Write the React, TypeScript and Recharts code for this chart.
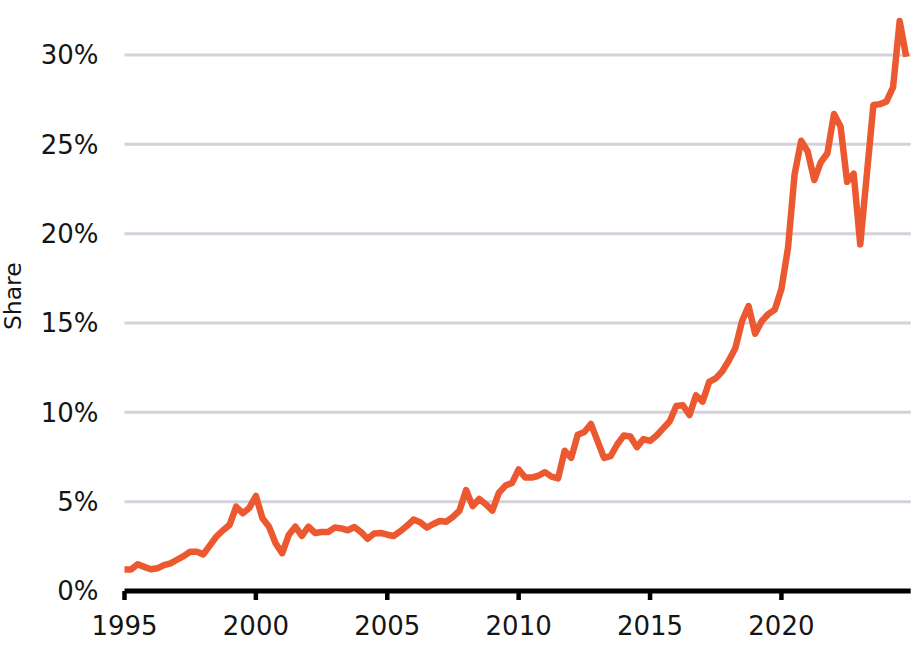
import React from "react";
import { LineChart, Line, XAxis, YAxis, CartesianGrid } from "recharts";

// quarterly share (%), one row per year, Q1..Q4
const years = [
  1995, 1996, 1997, 1998, 1999, 2000, 2001, 2002, 2003, 2004,
  2005, 2006, 2007, 2008, 2009, 2010, 2011, 2012, 2013, 2014,
  2015, 2016, 2017, 2018, 2019, 2020, 2021, 2022, 2023, 2024,
];

const shareByYear = [
  [1.2, 1.2, 1.5, 1.35],
  [1.22, 1.27, 1.45, 1.55],
  [1.75, 1.95, 2.2, 2.2],
  [2.05, 2.55, 3.05, 3.4],
  [3.7, 4.72, 4.35, 4.65],
  [5.32, 4.07, 3.6, 2.67],
  [2.11, 3.13, 3.6, 3.08],
  [3.6, 3.25, 3.3, 3.3],
  [3.55, 3.5, 3.4, 3.58],
  [3.3, 2.92, 3.22, 3.25],
  [3.15, 3.08, 3.35, 3.65],
  [4.0, 3.85, 3.55, 3.75],
  [3.92, 3.88, 4.15, 4.5],
  [5.65, 4.75, 5.15, 4.85],
  [4.5, 5.5, 5.9, 6.05],
  [6.8, 6.35, 6.35, 6.45],
  [6.65, 6.4, 6.3, 7.85],
  [7.45, 8.75, 8.9, 9.35],
  [8.4, 7.45, 7.55, 8.2],
  [8.7, 8.65, 8.05, 8.5],
  [8.4, 8.7, 9.1, 9.5],
  [10.35, 10.4, 9.85, 10.95],
  [10.6, 11.7, 11.9, 12.3],
  [12.9, 13.6, 15.1, 15.95],
  [14.4, 15.1, 15.5, 15.75],
  [16.9, 19.2, 23.3, 25.2],
  [24.6, 23.0, 24.0, 24.5],
  [26.7, 26.0, 22.9, 23.35],
  [19.4, 23.3, 27.2, 27.25],
  [27.4, 28.2, 31.9, 29.9],
];

const xTicks = [1995, 2000, 2005, 2010, 2015, 2020];
const yTicks = [0, 5, 10, 15, 20, 25, 30];
const gridLines = [5, 10, 15, 20, 25, 30];

const data = years.flatMap((y, i) =>
  shareByYear[i].map((v, q) => ({ t: y + q * 0.25, share: v }))
);

const FONT = "'DejaVu Sans', sans-serif";

export default function App() {
  return (
    <div style={{ position: "absolute", left: 0, top: 0, width: 922, height: 650, background: "#fff" }}>
      <LineChart
        width={922}
        height={650}
        data={data}
        margin={{ top: 1.4, right: 11.3, bottom: 0, left: 0 }}
      >
        <CartesianGrid
          vertical={false}
          horizontalValues={gridLines}
          stroke="#D3D2DA"
          strokeWidth={3}
        />
        <XAxis
          dataKey="t"
          type="number"
          domain={[1995, 2024.92]}
          ticks={xTicks}
          height={59}
          axisLine={{ stroke: "#000", strokeWidth: 5 }}
          tickLine={{ stroke: "#000", strokeWidth: 4.5 }}
          tickSize={9}
          tickMargin={17}
          tick={{ fontSize: 26, fill: "#151515", fontFamily: FONT }}
        />
        <YAxis
          type="number"
          domain={[0, 33]}
          ticks={yTicks}
          width={124.5}
          axisLine={false}
          tickLine={false}
          tickSize={0}
          tickMargin={26}
          tickFormatter={(v) => `${v}%`}
          tick={{ fontSize: 26, fill: "#151515", fontFamily: FONT }}
          label={{
            value: "Share",
            angle: -90,
            position: "insideLeft",
            offset: 0,
            dx: 12.5,
            style: { fontSize: 23.5, fill: "#151515", fontFamily: FONT, textAnchor: "middle" },
          }}
        />
        <Line
          type="linear"
          dataKey="share"
          stroke="#EC5830"
          strokeWidth={6.5}
          strokeLinejoin="round"
          dot={false}
          activeDot={false}
          isAnimationActive={false}
        />
      </LineChart>
    </div>
  );
}
